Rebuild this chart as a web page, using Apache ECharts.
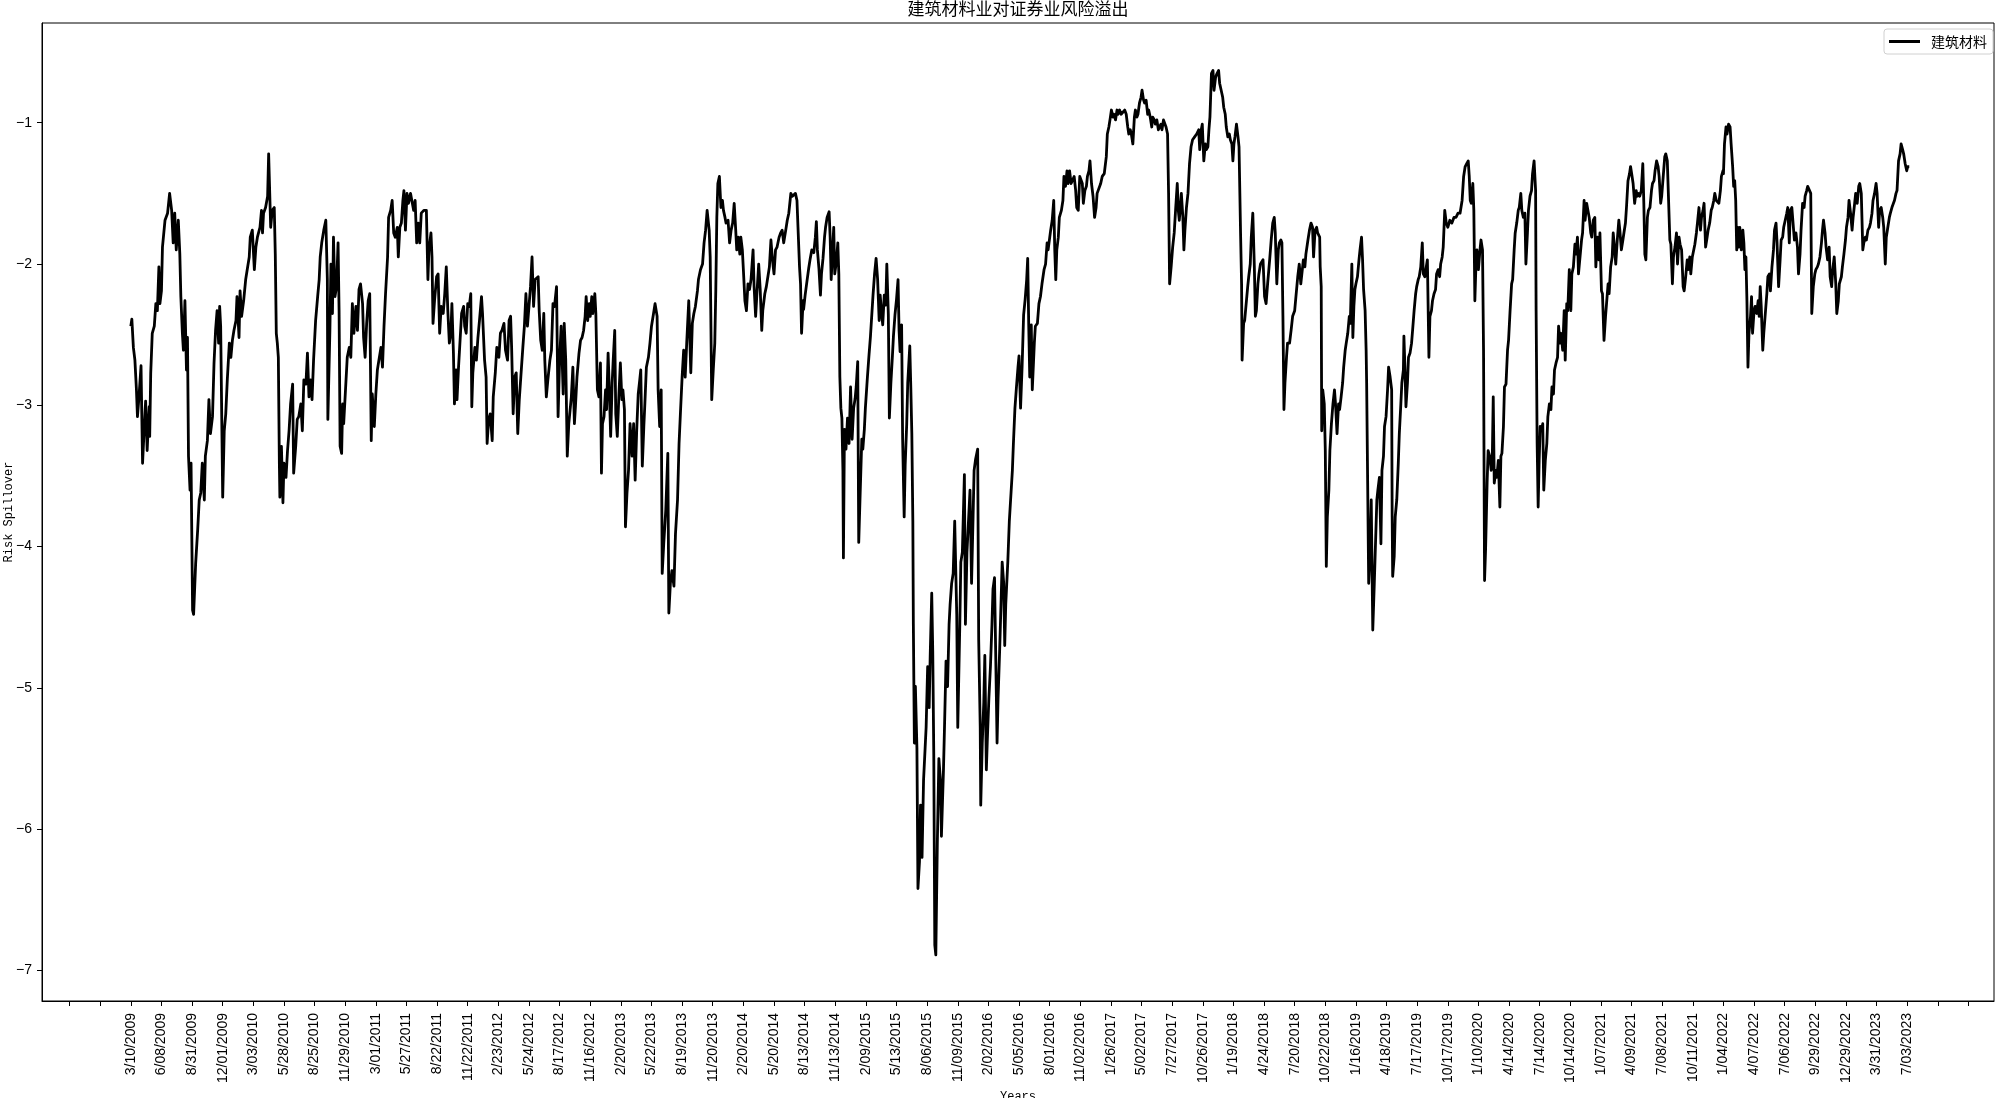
<!DOCTYPE html>
<html><head><meta charset="utf-8">
<script src="https://cdn.jsdelivr.net/npm/echarts@6/dist/echarts.min.js"></script>
<style>html,body{margin:0;padding:0;background:#fff}#c{width:2000px;height:1098px}</style>
</head><body><div id="c"></div>
<script>
// x tick labels (one every 60 trading days, starting at trading-day 0)
const tickDates = ['3/10/2009','6/08/2009','8/31/2009','12/01/2009','3/03/2010','5/28/2010','8/25/2010','11/29/2010','3/01/2011','5/27/2011','8/22/2011','11/22/2011','2/23/2012','5/24/2012','8/17/2012','11/16/2012','2/20/2013','5/22/2013','8/19/2013','11/20/2013','2/20/2014','5/20/2014','8/13/2014','11/13/2014','2/09/2015','5/13/2015','8/06/2015','11/09/2015','2/02/2016','5/05/2016','8/01/2016','11/02/2016','1/26/2017','5/02/2017','7/27/2017','10/26/2017','1/19/2018','4/24/2018','7/20/2018','10/22/2018','1/16/2019','4/18/2019','7/17/2019','10/17/2019','1/10/2020','4/14/2020','7/14/2020','10/14/2020','1/07/2021','4/09/2021','7/08/2021','10/11/2021','1/04/2022','4/07/2022','7/06/2022','9/29/2022','12/29/2022','3/31/2023','7/03/2023'];
const TICK_STEP = 60;
const yTicks = [-7,-6,-5,-4,-3,-2,-1];
const seriesName = '建筑材料';
const yTitle = 'Risk Spillover';
const xTitle = 'Years';

// trading-day index and risk spillover value, by period
const day2009 = [0,2,5,8,11,13,16,20,23,26,29,32,36,37,39,42,46,49,52,55,57,60,62,67,72,76,80,83,86,89,93,96,98,101,103,106,109,111,113,116,118,121,123,127,131,134,137,140,144,146,150,153,156,160,163,166,169,172,174,176,180,183,186,189,193,196,199,202,206,208,212,214,217,221,225,228,232,234,238,242,245,248,253,256,258,260,264,268,270,274,277,281,283,285,287,289,291,292,295,298,300,304,307,310,313,317,319,323,326,329,333,336,339,343,346,349,352,355,358,362,366,369,371,374,378,382,385,386,390,392,395,397,400,403,406,408,410,413,415,417];
const val2009 = [-2.44,-2.39,-2.59,-2.68,-2.89,-3.08,-2.94,-2.72,-3.41,-3.18,-2.97,-3.32,-3.01,-3.22,-2.77,-2.49,-2.44,-2.28,-2.33,-2.02,-2.28,-2.19,-1.88,-1.69,-1.64,-1.50,-1.62,-1.85,-1.64,-1.90,-1.69,-1.93,-2.23,-2.49,-2.61,-2.26,-2.75,-2.52,-3.36,-3.60,-3.41,-4.45,-4.48,-4.12,-3.88,-3.67,-3.62,-3.41,-3.67,-3.36,-3.25,-2.96,-3.20,-3.08,-2.70,-2.47,-2.33,-2.56,-2.30,-2.44,-3.65,-3.18,-3.06,-2.82,-2.56,-2.66,-2.54,-2.47,-2.40,-2.23,-2.52,-2.19,-2.37,-2.26,-2.11,-2.04,-1.95,-1.81,-1.76,-2.04,-1.88,-1.81,-1.74,-1.62,-1.78,-1.64,-1.60,-1.52,-1.22,-1.74,-1.62,-1.60,-1.93,-2.49,-2.56,-2.66,-3.41,-3.65,-3.29,-3.69,-3.41,-3.51,-3.32,-3.18,-2.99,-2.85,-3.48,-3.29,-3.10,-3.08,-2.99,-3.18,-2.82,-2.85,-2.63,-2.94,-2.82,-2.96,-2.68,-2.40,-2.23,-2.11,-1.95,-1.85,-1.76,-1.69,-2.11,-3.10,-2.47,-2.00,-2.35,-1.81,-2.23,-2.16,-1.85,-2.33,-3.29,-3.34,-2.99,-3.13];

const day2011 = [424,428,431,434,437,441,444,447,450,454,456,459,462,465,468,471,473,477,480,483,486,490,493,496,499,503,505,509,512,515,518,522,524,527,530,533,535,538,541,544,548,551,554,557,560,563,566,569,574,579,582,584,588,590,592,595,599,602,605,608,612,615,618,621,624,627,629,632,634,637,639,642,645,648,652,654,657,660,663,666,668,670,674,677,680,683,687,689,693,696,698,701,704,708,710,714,717,721,724,727,731,734,738,741,744,746,749,752,755,758,761,764,768,771,774,777,780,783,786,789,792,795,798,800,803,806,809,811,814,817,821,824,827,830,834,837,840,843,847,849,852,855,858];
const val2011 = [-2.66,-2.59,-2.66,-2.28,-2.49,-2.30,-2.47,-2.18,-2.14,-2.28,-2.52,-2.66,-2.42,-2.26,-2.21,-3.25,-2.92,-3.15,-2.92,-2.75,-2.68,-2.59,-2.73,-2.44,-2.21,-1.95,-1.67,-1.62,-1.55,-1.78,-1.81,-1.74,-1.95,-1.74,-1.71,-1.55,-1.48,-1.76,-1.50,-1.57,-1.50,-1.50,-1.62,-1.55,-1.85,-1.71,-1.85,-1.64,-1.62,-1.62,-2.11,-1.90,-1.78,-1.95,-2.42,-2.26,-2.09,-2.07,-2.49,-2.30,-2.35,-2.21,-2.02,-2.33,-2.56,-2.49,-2.28,-2.63,-2.99,-2.75,-2.96,-2.73,-2.54,-2.35,-2.30,-2.44,-2.49,-2.28,-2.30,-2.21,-3.01,-2.77,-2.59,-2.68,-2.52,-2.40,-2.23,-2.35,-2.68,-2.80,-3.27,-3.10,-3.06,-3.25,-2.94,-2.77,-2.59,-2.66,-2.49,-2.47,-2.42,-2.61,-2.68,-2.40,-2.37,-2.59,-3.06,-2.80,-2.77,-3.20,-2.96,-2.80,-2.59,-2.44,-2.21,-2.44,-2.30,-2.16,-1.95,-2.30,-2.11,-2.11,-2.09,-2.33,-2.54,-2.61,-2.35,-2.68,-2.94,-2.82,-2.68,-2.61,-2.28,-2.30,-2.16,-3.08,-2.68,-2.44,-2.92,-2.42,-2.68,-3.36,-3.13];

const day2013 = [863,866,869,871,874,878,881,884,887,890,892,895,898,900,903,905,909,911,914,917,920,922,924,927,930,932,935,937,940,943,945,948,950,953,956,959,962,964,967,969,972,975,978,982,985,988,991,994,997,999,1002,1005,1007,1010,1014,1017,1020,1024,1027,1031,1033,1036,1039,1041,1044,1048,1052,1054,1057,1060,1064,1067,1071,1074,1077,1080,1083,1086,1089,1093,1097,1100,1103,1106,1110,1112,1116,1120,1123,1126,1129,1133,1135,1138,1141,1144,1146,1148,1150,1153,1156,1159,1161,1164,1166,1170,1173,1176,1179,1182,1185,1187,1190,1193,1195,1198,1200,1203,1206,1209,1212,1215,1219,1221,1224,1227,1230,1233,1236,1238,1242,1245,1248,1251,1254,1257,1260,1263,1266,1270,1273,1276,1279,1283,1286,1289,1293,1296,1299,1302,1305,1307,1310,1312,1314,1317];
const val2013 = [-2.94,-2.73,-3.13,-3.01,-2.80,-2.63,-2.54,-2.52,-2.47,-2.37,-2.23,-2.40,-2.28,-2.37,-2.23,-2.35,-2.21,-2.35,-2.89,-2.94,-2.70,-3.48,-3.13,-3.08,-2.89,-3.03,-2.63,-2.84,-3.22,-2.84,-2.68,-2.47,-3.06,-3.22,-2.94,-2.70,-2.96,-2.89,-3.03,-3.86,-3.62,-3.46,-3.13,-3.36,-3.13,-3.53,-3.18,-2.92,-2.82,-2.75,-3.43,-3.15,-2.99,-2.73,-2.66,-2.56,-2.44,-2.35,-2.28,-2.37,-2.89,-3.15,-2.89,-4.19,-3.98,-3.74,-3.34,-4.47,-4.26,-4.17,-4.28,-3.91,-3.67,-3.27,-3.03,-2.80,-2.61,-2.80,-2.56,-2.26,-2.77,-2.42,-2.35,-2.30,-2.19,-2.11,-2.04,-2.00,-1.85,-1.76,-1.62,-1.76,-1.95,-2.96,-2.75,-2.56,-2.18,-1.67,-1.43,-1.38,-1.60,-1.55,-1.62,-1.67,-1.71,-1.69,-1.85,-1.76,-1.71,-1.57,-1.76,-1.90,-1.81,-1.93,-1.81,-1.90,-2.04,-2.26,-2.33,-2.14,-2.18,-2.11,-1.90,-2.16,-2.37,-2.18,-2.00,-2.18,-2.47,-2.33,-2.21,-2.16,-2.09,-2.02,-1.83,-1.97,-2.07,-1.90,-1.88,-1.81,-1.78,-1.76,-1.85,-1.76,-1.69,-1.64,-1.50,-1.52,-1.52,-1.50,-1.55,-1.74,-2.02,-2.14,-2.49,-2.26];

const day2014 = [1318,1321,1325,1328,1331,1334,1338,1341,1343,1345,1348,1351,1353,1356,1359,1361,1364,1368,1370,1372,1375,1377,1379,1382,1385,1387,1389,1391,1393,1395,1396,1398,1401,1404,1407,1410,1413,1416,1419,1421,1424,1426,1429,1432,1434,1437,1439,1443,1446,1449,1452,1454,1457,1460,1463,1466,1468,1471,1473,1476,1479,1481,1484,1486,1489,1492,1494,1497,1500,1503,1505,1507,1510,1512,1515,1517,1520,1522,1526,1528,1530,1532,1533,1535,1537,1540,1542,1545,1547,1550,1553,1556,1558,1561,1564,1566,1569,1571,1573,1575,1577,1580,1583,1586,1588,1592,1594,1597,1600,1603,1605,1608,1611,1614,1618,1620,1624,1626,1629,1633,1635,1638,1641,1644,1647,1650,1652,1655,1659,1661,1664,1665,1668,1671,1673,1676,1678,1681,1684,1687,1689,1692,1695,1697,1699,1702,1705,1707,1710,1712,1714,1718,1721,1724,1727,1729,1732,1735,1738,1740,1743,1746,1749,1752,1755,1757,1759,1761,1764];
const val2014 = [-2.32,-2.22,-2.11,-2.03,-1.96,-1.90,-1.92,-1.81,-1.70,-1.90,-2.03,-2.22,-2.07,-1.96,-1.81,-1.74,-1.67,-1.63,-1.81,-2.11,-1.89,-1.74,-2.07,-1.99,-1.85,-2.07,-2.80,-3.02,-3.09,-3.46,-4.08,-3.17,-3.31,-3.09,-3.27,-2.87,-3.24,-3.02,-2.95,-2.87,-2.69,-3.97,-3.60,-3.24,-3.31,-3.17,-3.02,-2.80,-2.65,-2.51,-2.51,-2.22,-2.07,-1.96,-2.11,-2.40,-2.22,-2.36,-2.43,-2.22,-2.29,-2.00,-2.36,-3.09,-2.84,-2.65,-2.51,-2.36,-2.25,-2.11,-2.47,-2.62,-2.43,-3.24,-3.79,-3.42,-3.13,-2.84,-2.58,-2.87,-3.20,-3.82,-4.55,-5.39,-4.99,-5.43,-6.42,-6.23,-5.83,-6.20,-5.65,-5.43,-5.28,-4.85,-5.14,-4.77,-4.33,-4.74,-5.47,-6.82,-6.89,-6.09,-5.50,-5.65,-6.05,-5.58,-5.28,-4.81,-4.99,-4.55,-4.41,-4.26,-4.19,-3.82,-4.48,-5.28,-4.55,-4.11,-4.04,-3.49,-4.55,-4.04,-3.82,-3.60,-4.26,-3.79,-3.46,-3.38,-3.31,-4.66,-5.28,-5.83,-5.39,-5.10,-4.77,-5.58,-5.36,-5.07,-4.85,-4.55,-4.30,-4.22,-4.92,-5.39,-5.07,-4.74,-4.37,-4.11,-4.26,-4.70,-4.41,-4.11,-3.82,-3.64,-3.46,-3.27,-3.02,-2.87,-2.73,-2.65,-3.02,-2.73,-2.36,-2.25,-2.11,-1.96,-2.43,-2.80,-2.43];

const day2016 = [1766,1770,1772,1776,1779,1782,1785,1789,1792,1795,1797,1800,1802,1805,1808,1810,1812,1814,1817,1819,1823,1826,1828,1831,1834,1836,1839,1842,1845,1848,1851,1853,1856,1859,1861,1864,1866,1869,1872,1874,1877,1879,1882,1885,1888,1891,1893,1896,1900,1903,1907,1911,1913,1916,1919,1921,1924,1926,1929,1932,1934,1937,1940,1943,1947,1950,1953,1955,1958,1960,1963,1966,1968,1971,1973,1976,1979,1981,1984,1986,1989,1992,1994,1997,2000,2002,2005,2007,2010,2013,2015,2018,2020,2023,2026,2028,2031,2033,2035,2038,2041,2044,2047,2050,2052,2054,2056,2058,2061,2063,2065,2068,2071,2074,2077,2080,2084,2088,2092,2094,2097,2099,2102,2105,2107,2110,2112,2114,2117,2120,2122,2125,2128,2131,2133,2136,2139,2141,2144,2146,2149,2152,2154,2157,2159,2161,2163,2166,2169,2171,2174,2176,2177,2180,2182,2185,2188,2190,2193,2195,2198,2201,2203,2205,2208,2210,2213];
const val2016 = [-2.89,-2.56,-2.44,-2.42,-2.28,-2.23,-2.14,-2.04,-2.00,-1.85,-1.90,-1.90,-1.76,-1.69,-1.55,-1.90,-2.11,-1.90,-1.81,-1.67,-1.62,-1.55,-1.38,-1.45,-1.34,-1.43,-1.34,-1.43,-1.43,-1.38,-1.48,-1.60,-1.62,-1.38,-1.38,-1.43,-1.57,-1.48,-1.45,-1.38,-1.34,-1.27,-1.43,-1.52,-1.67,-1.60,-1.50,-1.50,-1.43,-1.38,-1.36,-1.24,-1.08,-1.03,-0.96,-0.91,-0.96,-0.94,-0.98,-0.91,-0.94,-0.91,-0.94,-0.94,-0.91,-0.94,-1.03,-1.08,-1.05,-1.08,-1.15,-0.96,-0.91,-0.96,-0.94,-0.86,-0.82,-0.77,-0.84,-0.86,-0.84,-0.94,-0.91,-0.96,-1.03,-0.96,-0.98,-1.01,-0.98,-1.05,-1.03,-1.01,-1.05,-0.98,-1.01,-1.03,-1.08,-1.50,-2.14,-2.02,-1.88,-1.78,-1.60,-1.43,-1.62,-1.69,-1.60,-1.50,-1.67,-1.90,-1.76,-1.60,-1.50,-1.29,-1.17,-1.12,-1.10,-1.08,-1.05,-1.19,-1.05,-1.01,-1.27,-1.15,-1.19,-1.17,-1.05,-0.96,-0.65,-0.63,-0.77,-0.68,-0.65,-0.63,-0.72,-0.77,-0.82,-0.89,-0.94,-1.03,-1.10,-1.08,-1.12,-1.15,-1.27,-1.15,-1.10,-1.01,-1.10,-1.17,-1.78,-2.14,-2.68,-2.42,-2.40,-2.28,-2.16,-2.09,-2.00,-1.81,-1.64,-2.02,-2.37,-2.33,-2.14,-2.07,-2.00];

const day2018 = [2218,2221,2224,2227,2231,2234,2237,2240,2242,2245,2248,2250,2253,2255,2257,2259,2261,2264,2266,2270,2273,2276,2280,2283,2286,2289,2292,2295,2297,2300,2302,2306,2309,2312,2315,2317,2320,2323,2325,2329,2330,2332,2333,2335,2338,2340,2342,2344,2347,2349,2352,2355,2358,2360,2363,2366,2368,2371,2374,2376,2379,2381,2384,2387,2389,2392,2394,2396,2398,2400,2403,2406,2408,2411,2413,2415,2418,2420,2421,2423,2425,2428,2430,2433,2436,2438,2441,2443,2446,2449,2451,2454,2456,2459,2462,2464,2467,2470,2471,2472,2475,2477,2480,2483,2485,2488,2490,2493,2494,2496,2498,2501,2503,2506,2509,2511,2514,2517,2519,2522,2524,2527,2530,2532,2535,2537,2540,2543,2545,2548,2550,2553,2556,2558,2561,2564,2566,2569,2571,2574,2577,2580,2584,2588,2592,2596,2600,2604,2608,2611,2614,2617,2620,2622,2624,2626,2629,2631,2633,2635,2637,2640,2643,2645,2648,2650,2652,2654,2657,2659,2662,2665];
const val2018 = [-1.97,-2.23,-2.28,-2.14,-1.97,-1.83,-1.71,-1.67,-1.78,-2.14,-1.90,-1.85,-1.83,-1.85,-2.37,-3.03,-2.84,-2.66,-2.56,-2.56,-2.47,-2.37,-2.33,-2.21,-2.09,-2.00,-2.14,-2.04,-1.97,-2.02,-1.93,-1.83,-1.76,-1.71,-1.74,-1.95,-1.76,-1.74,-1.78,-1.81,-2.02,-2.16,-3.18,-2.89,-2.99,-3.32,-4.14,-3.79,-3.60,-3.32,-3.13,-2.99,-2.89,-2.99,-3.20,-2.99,-3.03,-2.94,-2.84,-2.73,-2.61,-2.56,-2.49,-2.37,-2.42,-2.00,-2.52,-2.30,-2.18,-2.14,-2.09,-1.97,-1.90,-1.81,-1.97,-2.18,-2.33,-2.61,-2.84,-3.55,-4.26,-4.02,-3.67,-4.59,-4.26,-4.02,-3.67,-3.60,-3.51,-3.98,-3.46,-3.36,-3.15,-3.08,-2.89,-2.73,-2.80,-2.89,-3.79,-4.21,-4.07,-3.79,-3.67,-3.41,-3.20,-2.99,-2.84,-2.75,-2.51,-2.73,-3.01,-2.84,-2.66,-2.63,-2.56,-2.47,-2.33,-2.21,-2.16,-2.11,-2.09,-2.02,-1.85,-2.07,-2.09,-2.04,-1.97,-2.66,-2.37,-2.33,-2.26,-2.21,-2.18,-2.07,-2.04,-2.09,-2.00,-1.95,-1.88,-1.62,-1.71,-1.74,-1.69,-1.71,-1.67,-1.67,-1.64,-1.64,-1.55,-1.38,-1.31,-1.29,-1.27,-1.38,-1.55,-1.57,-1.43,-1.62,-2.26,-2.02,-1.90,-2.04,-1.90,-1.83,-1.90,-2.61,-4.24,-4.02,-3.55,-3.32,-3.36,-3.46];

const day2020 = [2667,2669,2671,2674,2676,2679,2682,2684,2686,2689,2691,2694,2697,2699,2702,2705,2707,2710,2712,2715,2718,2720,2723,2725,2728,2731,2733,2736,2738,2741,2744,2746,2749,2752,2753,2755,2757,2759,2761,2763,2766,2768,2771,2774,2776,2779,2782,2784,2787,2789,2792,2795,2797,2800,2802,2805,2808,2810,2813,2815,2818,2821,2823,2826,2829,2831,2834,2836,2839,2842,2844,2847,2849,2852,2855,2857,2860,2862,2865,2868,2870,2873,2876,2878,2881,2883,2886,2889,2891,2894,2896,2899,2902,2904,2907,2909,2912,2915,2917,2920,2923,2925,2928,2930,2933,2936,2938,2941,2943,2946,2949,2951,2954,2956,2959,2962,2964,2966,2968,2971,2973,2976,2979,2981,2984,2986,2989,2992,2994,2997,2999,3002,3005,3007,3010,3013,3015,3017,3020,3022,3025,3028,3030,3033,3035,3038,3041,3043,3046,3049,3051,3054,3056,3059,3062,3064,3067,3069,3072,3075,3077,3080,3082,3085,3088,3090,3093,3096,3098,3101,3103,3106,3109,3111,3114,3116,3119];
const val2020 = [-3.41,-2.94,-3.55,-3.46,-3.51,-3.39,-3.72,-3.36,-3.34,-3.15,-2.87,-2.85,-2.61,-2.54,-2.33,-2.14,-2.11,-1.90,-1.78,-1.71,-1.62,-1.60,-1.50,-1.62,-1.67,-1.64,-2.00,-1.78,-1.62,-1.52,-1.48,-1.36,-1.27,-1.48,-2.33,-3.27,-3.72,-3.39,-3.15,-3.18,-3.13,-3.60,-3.39,-3.27,-3.08,-2.99,-3.03,-2.87,-2.92,-2.75,-2.70,-2.66,-2.44,-2.56,-2.49,-2.61,-2.33,-2.68,-2.28,-2.33,-2.04,-2.33,-2.07,-2.02,-1.86,-1.93,-1.81,-2.07,-2.07,-1.83,-1.78,-1.55,-1.69,-1.57,-1.57,-1.67,-1.78,-1.81,-1.69,-1.67,-2.02,-1.81,-1.97,-1.78,-2.19,-2.21,-2.54,-2.37,-2.37,-2.14,-2.21,-2.02,-1.95,-1.78,-1.90,-2.00,-1.83,-1.69,-1.76,-1.90,-1.83,-1.78,-1.71,-1.60,-1.41,-1.36,-1.31,-1.38,-1.43,-1.57,-1.48,-1.52,-1.50,-1.52,-1.48,-1.29,-1.57,-1.93,-1.97,-1.67,-1.62,-1.60,-1.48,-1.43,-1.41,-1.34,-1.27,-1.31,-1.38,-1.57,-1.52,-1.38,-1.24,-1.22,-1.27,-1.27,-1.83,-1.86,-2.14,-1.95,-1.88,-1.78,-2.00,-1.81,-1.86,-1.90,-2.16,-2.19,-2.09,-1.97,-2.04,-1.95,-2.07,-1.95,-1.95,-1.86,-1.78,-1.71,-1.60,-1.76,-1.67,-1.62,-1.57,-1.88,-1.81,-1.76,-1.71,-1.62,-1.60,-1.55,-1.50,-1.55,-1.55,-1.57,-1.48,-1.38,-1.34];

const day2022 = [3120,3122,3125,3127,3130,3133,3135,3138,3140,3142,3144,3146,3148,3150,3152,3155,3158,3160,3162,3164,3166,3168,3170,3173,3175,3177,3180,3182,3185,3188,3190,3192,3194,3197,3199,3202,3205,3207,3210,3212,3215,3218,3220,3223,3225,3228,3231,3233,3236,3238,3241,3244,3246,3249,3251,3254,3257,3259,3262,3265,3267,3270,3272,3275,3278,3280,3283,3285,3288,3291,3293,3296,3299,3301,3304,3306,3309,3312,3314,3316,3319,3321,3324,3327,3329,3332,3334,3337,3340,3342,3345,3347,3351,3353,3356,3359,3361,3364,3366,3369,3372,3374,3377,3379,3382,3385,3387,3390,3393,3395,3398,3400,3403,3406,3408,3411,3413,3416,3419,3421,3424,3426,3429,3432,3434,3437,3439,3442,3445,3447,3450,3453,3455,3458,3460,3463,3466,3468,3471,3473,3476,3479,3481,3484];
const val2022 = [-1.36,-1.15,-1.03,-1.08,-1.01,-1.03,-1.15,-1.31,-1.45,-1.41,-1.55,-1.90,-1.74,-1.88,-1.74,-1.90,-1.76,-1.85,-2.04,-1.95,-2.26,-2.73,-2.49,-2.37,-2.23,-2.49,-2.33,-2.30,-2.35,-2.26,-2.37,-2.16,-2.30,-2.61,-2.49,-2.35,-2.21,-2.09,-2.07,-2.19,-2.02,-1.90,-1.76,-1.71,-1.85,-2.16,-1.97,-1.83,-1.81,-1.74,-1.69,-1.64,-1.60,-1.85,-1.62,-1.60,-1.74,-1.83,-1.78,-1.88,-2.07,-1.93,-1.76,-1.57,-1.60,-1.52,-1.48,-1.45,-1.45,-1.50,-2.35,-2.16,-2.07,-2.04,-2.02,-2.00,-1.95,-1.85,-1.76,-1.69,-1.78,-1.88,-1.97,-1.88,-2.09,-2.16,-2.04,-1.95,-2.14,-2.35,-2.26,-2.14,-2.09,-2.02,-1.93,-1.83,-1.74,-1.67,-1.55,-1.64,-1.76,-1.67,-1.57,-1.50,-1.57,-1.45,-1.43,-1.50,-1.90,-1.85,-1.81,-1.83,-1.76,-1.74,-1.71,-1.64,-1.55,-1.50,-1.43,-1.50,-1.74,-1.62,-1.60,-1.67,-1.74,-2.00,-1.81,-1.74,-1.67,-1.64,-1.60,-1.57,-1.55,-1.50,-1.48,-1.27,-1.22,-1.15,-1.19,-1.22,-1.29,-1.34,-1.31,-1.31];

const periods = [[day2009,val2009],[day2011,val2011],[day2013,val2013],[day2014,val2014],[day2016,val2016],[day2018,val2018],[day2020,val2020],[day2022,val2022]];
const points = [];
periods.forEach(function (p) {
  if (p[0].length !== p[1].length) throw new Error('length mismatch ' + p[0][0] + ': ' + p[0].length + ' vs ' + p[1].length);
  p[0].forEach(function (d, i) { points.push([d, p[1][i]]); });
});

const labelTicks = tickDates.map(function (_, i) { return i * TICK_STEP; });
const lastTick = labelTicks[labelTicks.length - 1];
const allTicks = [-2 * TICK_STEP, -TICK_STEP].concat(labelTicks, [lastTick + TICK_STEP, lastTick + 2 * TICK_STEP]);

const tickFont = 'Liberation Sans, Arial, sans-serif';
const cjkFont = 'Noto Sans CJK SC, sans-serif';
const monoFont = 'Liberation Mono, DejaVu Sans Mono, monospace';

const chart = echarts.init(document.getElementById('c'), null, { renderer: 'canvas' });
chart.setOption({
  animation: false,
  backgroundColor: '#ffffff',
  title: {
    text: '建筑材料业对证券业风险溢出',
    left: 1018, top: 0, textAlign: 'center', padding: 0,
    textStyle: { fontFamily: cjkFont, fontSize: 17, fontWeight: 'normal', color: '#000' }
  },
  legend: {
    data: [seriesName],
    right: 7, top: 29,
    icon: 'rect', itemWidth: 31, itemHeight: 3,
    padding: [5, 6, 5, 5],
    backgroundColor: '#ffffff',
    borderColor: '#d0d0d0', borderWidth: 1, borderRadius: 3,
    textStyle: { fontFamily: cjkFont, fontSize: 14, color: '#000', lineHeight: 15, padding: [0, 0, 0, 6] }
  },
  graphic: [{
    type: 'text',
    x: 9, y: 512,
    rotation: Math.PI / 2,
    silent: true,
    style: {
      text: yTitle, textAlign: 'center', textVerticalAlign: 'middle',
      fontFamily: monoFont, fontSize: 12, fill: '#000'
    }
  }],
  grid: {
    left: 42, right: 6, top: 23, bottom: 97,
    containLabel: false, outerBoundsMode: 'none',
    show: true, borderColor: '#000', borderWidth: 1, backgroundColor: 'transparent'
  },
  xAxis: {
    type: 'value',
    min: -174, max: 3650,
    name: xTitle, nameLocation: 'middle', nameGap: 86,
    nameTextStyle: { fontFamily: monoFont, fontSize: 12, color: '#000' },
    axisLine: { show: true, onZero: false, lineStyle: { color: '#000', width: 1 } },
    axisTick: { show: true, inside: false, length: 5, customValues: allTicks, lineStyle: { color: '#000', width: 1 } },
    axisLabel: {
      customValues: labelTicks, rotate: 90, margin: 12,
      fontFamily: tickFont, fontSize: 14, color: '#000',
      formatter: function (v) { const i = Math.round(v / TICK_STEP); return tickDates[i] || ''; }
    },
    splitLine: { show: false }
  },
  yAxis: {
    type: 'value',
    min: -7.216, max: -0.294,
    axisLine: { show: true, onZero: false, lineStyle: { color: '#000', width: 1 } },
    axisTick: { show: true, inside: false, length: 5, customValues: yTicks, lineStyle: { color: '#000', width: 1 } },
    axisLabel: {
      customValues: yTicks, margin: 10,
      fontFamily: tickFont, fontSize: 14, color: '#000',
      formatter: function (v) { return (v < 0 ? '\u2212' : '') + Math.abs(v); }
    },
    splitLine: { show: false }
  },
  series: [{
    name: seriesName,
    type: 'line',
    data: points,
    showSymbol: false, symbol: 'none',
    sampling: 'none',
    lineStyle: { color: '#000', width: 2.8, join: 'round' },
    itemStyle: { color: '#000' },
    emphasis: { disabled: true }
  }]
});
</script></body></html>
